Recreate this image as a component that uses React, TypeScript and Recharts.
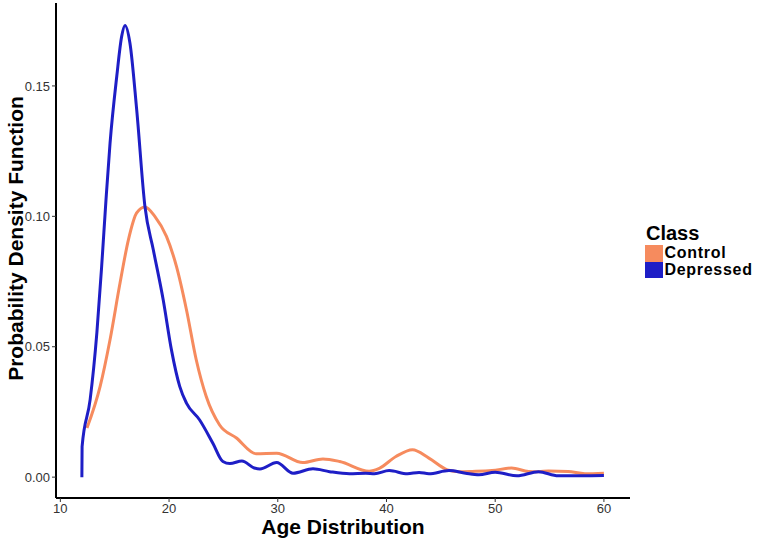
import { Line, LineChart, XAxis, YAxis } from "recharts";

// density curves (age -> probability density)
const ageDepressed = [
  11.98, 12.0, 12.74, 13.36, 13.8, 14.2, 14.57, 15.19, 15.64, 15.95, 16.4, 17.02, 17.78,
  18.55, 19.46, 20.22, 20.98, 21.6, 22.8, 24.03, 24.95, 25.6, 26.7, 27.84, 28.36, 29.9,
  31.4, 33.24, 34.77, 36.6, 38.1, 38.9, 40.25, 41.93, 43.0, 43.9, 45.75, 47.27, 48.5,
  50.0, 52.0, 53.98, 55.8, 57.94, 60.0,
];
const densityDepressed = [
  0.0, 0.0117, 0.0297, 0.0554, 0.0808, 0.1064, 0.128, 0.1537, 0.169, 0.1732, 0.1665, 0.141,
  0.1038, 0.0872, 0.068, 0.0488, 0.0348, 0.0284, 0.022, 0.013, 0.006, 0.0052, 0.0062, 0.0035,
  0.0031, 0.0056, 0.0015, 0.0032, 0.0021, 0.0013, 0.0015, 0.0013, 0.0025, 0.0013, 0.0018,
  0.0013, 0.0025, 0.0015, 0.0009, 0.0019, 0.0005, 0.0021, 0.0005, 0.0005, 0.0006,
];

const ageControl = [
  12.45, 13.66, 14.57, 15.49, 16.26, 17.02, 17.78, 18.69, 19.76, 20.68, 21.6, 22.5, 23.42,
  24.65, 26.2, 28.0, 29.9, 32.3, 34.15, 35.7, 38.4, 39.34, 40.87, 42.39, 43.9, 45.6, 46.7,
  47.88, 49.7, 51.5, 53.07, 54.0, 54.9, 56.7, 58.25, 60.0,
];
const densityControl = [
  0.0188, 0.0348, 0.0527, 0.0744, 0.091, 0.1013, 0.1036, 0.1, 0.0923, 0.0808, 0.0642, 0.045,
  0.0309, 0.02, 0.015, 0.009, 0.0092, 0.0056, 0.007, 0.006, 0.0023, 0.0034, 0.0079, 0.0105,
  0.0073, 0.0028, 0.0021, 0.0022, 0.0025, 0.0035, 0.0022, 0.0021, 0.0024, 0.0022, 0.0013,
  0.0015,
];

const xTicks = [10, 20, 30, 40, 50, 60];
const yTicks = [0, 0.05, 0.1, 0.15];

const classes = ["Control", "Depressed"];
const colors = ["#F68B5E", "#1E1EC6"];

const controlData = ageControl.map((x, i) => ({ x, y: densityControl[i] }));
const depressedData = ageDepressed.map((x, i) => ({ x, y: densityDepressed[i] }));

const FONT = "'Liberation Sans', Arial, sans-serif";

export default function App() {
  return (
    <div style={{ position: "absolute", left: 0, top: 0, width: 759, height: 542, fontFamily: FONT, background: "#fff" }}>
      <LineChart
        width={759}
        height={542}
        margin={{ top: 3, right: 129, bottom: 0, left: 0 }}
        style={{ fontFamily: FONT }}
      >
        <XAxis
          type="number"
          dataKey="x"
          domain={[9.6, 62.4]}
          ticks={xTicks}
          allowDataOverflow
          height={44}
          axisLine={{ stroke: "#000", strokeWidth: 2 }}
          tickLine={{ stroke: "#333" }}
          tickSize={4}
          tick={{ fontSize: 13, fill: "#333" }}
        />
        <YAxis
          type="number"
          dataKey="y"
          domain={[-0.008, 0.1818]}
          ticks={yTicks}
          allowDataOverflow
          width={56}
          tickFormatter={(v: number) => v.toFixed(2)}
          axisLine={{ stroke: "#000", strokeWidth: 2 }}
          tickLine={{ stroke: "#333" }}
          tickSize={4}
          tick={{ fontSize: 13, fill: "#333" }}
        />
        <Line data={controlData} dataKey="y" type="monotone" stroke={colors[0]} strokeWidth={3} dot={false} isAnimationActive={false} />
        <Line data={depressedData} dataKey="y" type="monotone" stroke={colors[1]} strokeWidth={3} dot={false} isAnimationActive={false} />
      </LineChart>

      {/* axis titles */}
      <div
        style={{
          position: "absolute", left: 193, top: 516, width: 300, textAlign: "center",
          fontSize: 21, lineHeight: "21px", fontWeight: "bold", color: "#000",
        }}
      >
        Age Distribution
      </div>
      <div
        style={{
          position: "absolute", left: 15 - 200, top: 238 - 10.5, width: 400, height: 21, textAlign: "center",
          fontSize: 21, lineHeight: "21px", fontWeight: "bold", color: "#000",
          transform: "rotate(-90deg)", whiteSpace: "nowrap",
        }}
      >
        Probability Density Function
      </div>

      {/* legend */}
      <div style={{ position: "absolute", left: 646, top: 223, fontSize: 20, lineHeight: "20px", fontWeight: "bold" }}>
        Class
      </div>
      {classes.map((c, i) => (
        <div key={c} style={{ position: "absolute", left: 645, top: 245 + i * 16.7, height: 16.7, display: "flex", alignItems: "center" }}>
          <div style={{ width: 17.5, height: 16.7, background: colors[i] }} />
          <span style={{ marginLeft: 2, fontSize: 16, lineHeight: "16px", letterSpacing: 0.7, fontWeight: "bold" }}>{c}</span>
        </div>
      ))}
    </div>
  );
}
